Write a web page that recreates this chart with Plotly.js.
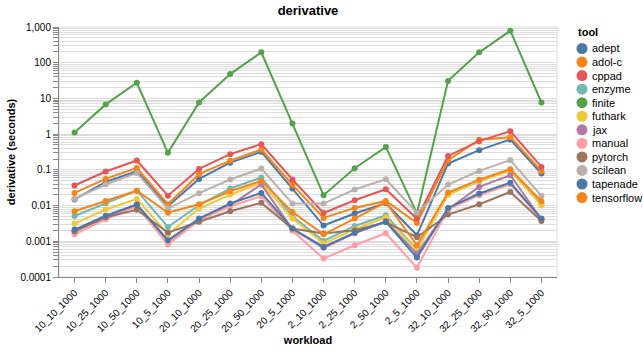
<!DOCTYPE html>
<html>
<head>
<meta charset="utf-8">
<script src="https://cdn.plot.ly/plotly-3.0.1.min.js"></script>
<style>html,body{margin:0;padding:0;background:#fff;}#chart{width:643px;height:351px;}</style>
</head>
<body>
<div id="chart"></div>
<script>
const workloads = ["10_10_1000","10_25_1000","10_50_1000","10_5_1000","20_10_1000","20_25_1000","20_50_1000","20_5_1000","2_10_1000","2_25_1000","2_50_1000","2_5_1000","32_10_1000","32_25_1000","32_50_1000","32_5_1000"];
const tools = ["adept","adol-c","cppad","enzyme","finite","futhark","jax","manual","pytorch","scilean","tapenade","tensorflow"];
const colors = ["#4c78a8","#f58518","#e45756","#72b7b2","#54a24b","#eeca3b","#b279a2","#ff9da6","#9d755d","#bab0ac","#4c78a8","#f58518"];

const adept      = [0.0148,0.046,0.0918,0.0096,0.0558,0.159,0.319,0.030,0.00276,0.00598,0.0116,0.00147,0.151,0.356,0.71,0.079];
const adolc      = [0.0226,0.0558,0.1136,0.0109,0.0756,0.181,0.372,0.0379,0.0045,0.0086,0.0135,0.00326,0.187,0.701,0.824,0.0918];
const cppad      = [0.0365,0.090,0.183,0.0189,0.1065,0.275,0.524,0.0537,0.00622,0.0141,0.0287,0.00428,0.246,0.636,1.21,0.121];
const enzyme     = [0.00509,0.0116,0.0261,0.00252,0.0102,0.030,0.0611,0.00502,0.00102,0.00269,0.00536,0.000586,0.0208,0.0481,0.0979,0.0109];
const finite     = [1.12,6.8,27.4,0.30,7.7,48,195,2.0,0.0195,0.111,0.44,0.006,31,195,787,7.7];
const futhark    = [0.00314,0.00774,0.0153,0.00157,0.00826,0.0201,0.0431,0.00433,0.000863,0.00217,0.00471,0.00056,0.0201,0.0491,0.0936,0.0102];
const jax        = [0.00191,0.00471,0.0102,0.001,0.00414,0.0102,0.0389,0.00217,0.000658,0.00168,0.00364,0.000452,0.0079,0.0333,0.0709,0.00414];
const manual     = [0.00157,0.00414,0.0096,0.000809,0.00388,0.0096,0.0183,0.00197,0.000327,0.000773,0.00168,0.000181,0.0079,0.0195,0.0396,0.00414];
const pytorch    = [0.00191,0.00471,0.00764,0.00175,0.00352,0.00694,0.0119,0.00227,0.00164,0.00203,0.00341,0.0013,0.00561,0.0109,0.0241,0.00371];
const scilean    = [0.0155,0.0389,0.0822,0.00826,0.0222,0.0537,0.109,0.0114,0.0114,0.0282,0.0547,0.0063,0.0389,0.0936,0.187,0.0186];
const tapenade   = [0.00213,0.00519,0.0107,0.00107,0.00433,0.0114,0.0226,0.00227,0.000693,0.00175,0.00352,0.000349,0.0086,0.0218,0.0437,0.00433];
const tensorflow = [0.00694,0.0135,0.0261,0.0063,0.0109,0.0252,0.0491,0.00663,0.00157,0.00433,0.0124,0.000773,0.0232,0.053,0.1044,0.0132];

const series = [adept,adolc,cppad,enzyme,finite,futhark,jax,manual,pytorch,scilean,tapenade,tensorflow];

const yTickDecades = [0.0001,0.001,0.01,0.1,1,10,100,1000];
const yTickLabels = ["0.0001","0.001","0.01","0.1","1","10","100","1,000"];

const FONT = "Liberation Sans, Arial, sans-serif";

const traces = series.map((ys, i) => ({
  type: "scatter",
  mode: "lines+markers",
  name: tools[i],
  x: workloads,
  y: ys,
  line: {color: colors[i], width: 2},
  marker: {color: colors[i], size: 6},
  showlegend: false,
  hoverinfo: "x+y+name"
}));

// full tick list: every 1..9 multiple of each decade (minor ticks get empty labels)
const tickvals = [], ticktext = [];
yTickDecades.forEach((d, k) => {
  tickvals.push(d); ticktext.push(yTickLabels[k]);
  if (k < yTickDecades.length - 1) {
    for (let m = 2; m <= 9; m++) { tickvals.push(d * m); ticktext.push(""); }
  }
});

// plot-area geometry (pixels)
const L = 59, R = 557, T = 27, B = 277, W = 643, H = 351;
const px = x => (x - L) / (R - L);
const py = y => (B - y) / (B - T);

const shapes = [{
  type: "rect", xref: "paper", yref: "paper", x0: 0, x1: 1, y0: 0, y1: 1,
  line: {color: "#ddd", width: 1}, fillcolor: "rgba(0,0,0,0)", layer: "below"
}];
const annotations = [{
  text: "<b>tool</b>", xref: "paper", yref: "paper", x: px(576), y: py(32),
  xanchor: "left", yanchor: "middle", showarrow: false,
  font: {family: FONT, size: 11, color: "#000"}
}];
tools.forEach((t, i) => {
  const cy = 48.5 + i * 13.55;
  shapes.push({
    type: "circle", xref: "paper", yref: "paper",
    xsizemode: "pixel", ysizemode: "pixel",
    xanchor: px(582), yanchor: py(cy),
    x0: -5.5, x1: 5.5, y0: -5.5, y1: 5.5,
    fillcolor: colors[i], line: {width: 0}
  });
  annotations.push({
    text: t, xref: "paper", yref: "paper", x: px(590), y: py(cy),
    xanchor: "left", yanchor: "middle", showarrow: false,
    font: {family: FONT, size: 11, color: "#000"}
  });
});

const layout = {
  width: W, height: H,
  margin: {l: L, r: W - R, t: T, b: H - B, pad: 0},
  paper_bgcolor: "#fff", plot_bgcolor: "#fff",
  font: {family: FONT, size: 10, color: "#000"},
  title: {text: "<b>derivative</b>", font: {family: FONT, size: 13, color: "#000"},
          x: 0.5, xref: "paper", y: 1 - 10 / H, yref: "container", yanchor: "middle"},
  showlegend: false,
  xaxis: {
    type: "category", categoryorder: "array", categoryarray: workloads,
    range: [-0.5, workloads.length - 0.5],
    showgrid: false, zeroline: false,
    showline: true, linecolor: "#888", linewidth: 1,
    ticks: "outside", ticklen: 5, tickcolor: "#888", tickwidth: 1,
    tickangle: -45, tickfont: {family: FONT, size: 10, color: "#000"},
    title: {text: "<b>workload</b>", font: {family: FONT, size: 11, color: "#000"}, standoff: 3},
    automargin: false, fixedrange: true
  },
  yaxis: {
    type: "log", range: [-4, 3],
    tickmode: "array", tickvals: tickvals, ticktext: ticktext,
    showgrid: true, gridcolor: "#ddd", gridwidth: 1, zeroline: false,
    showline: true, linecolor: "#888", linewidth: 1,
    ticks: "outside", ticklen: 5, tickcolor: "#888", tickwidth: 1,
    tickfont: {family: FONT, size: 10, color: "#000"},
    title: {text: "<b>derivative (seconds)</b>", font: {family: FONT, size: 11, color: "#000"}, standoff: 2},
    automargin: false, fixedrange: true
  },
  shapes: shapes,
  annotations: annotations
};

Plotly.newPlot("chart", traces, layout, {displayModeBar: false, staticPlot: true});
</script>
</body>
</html>
